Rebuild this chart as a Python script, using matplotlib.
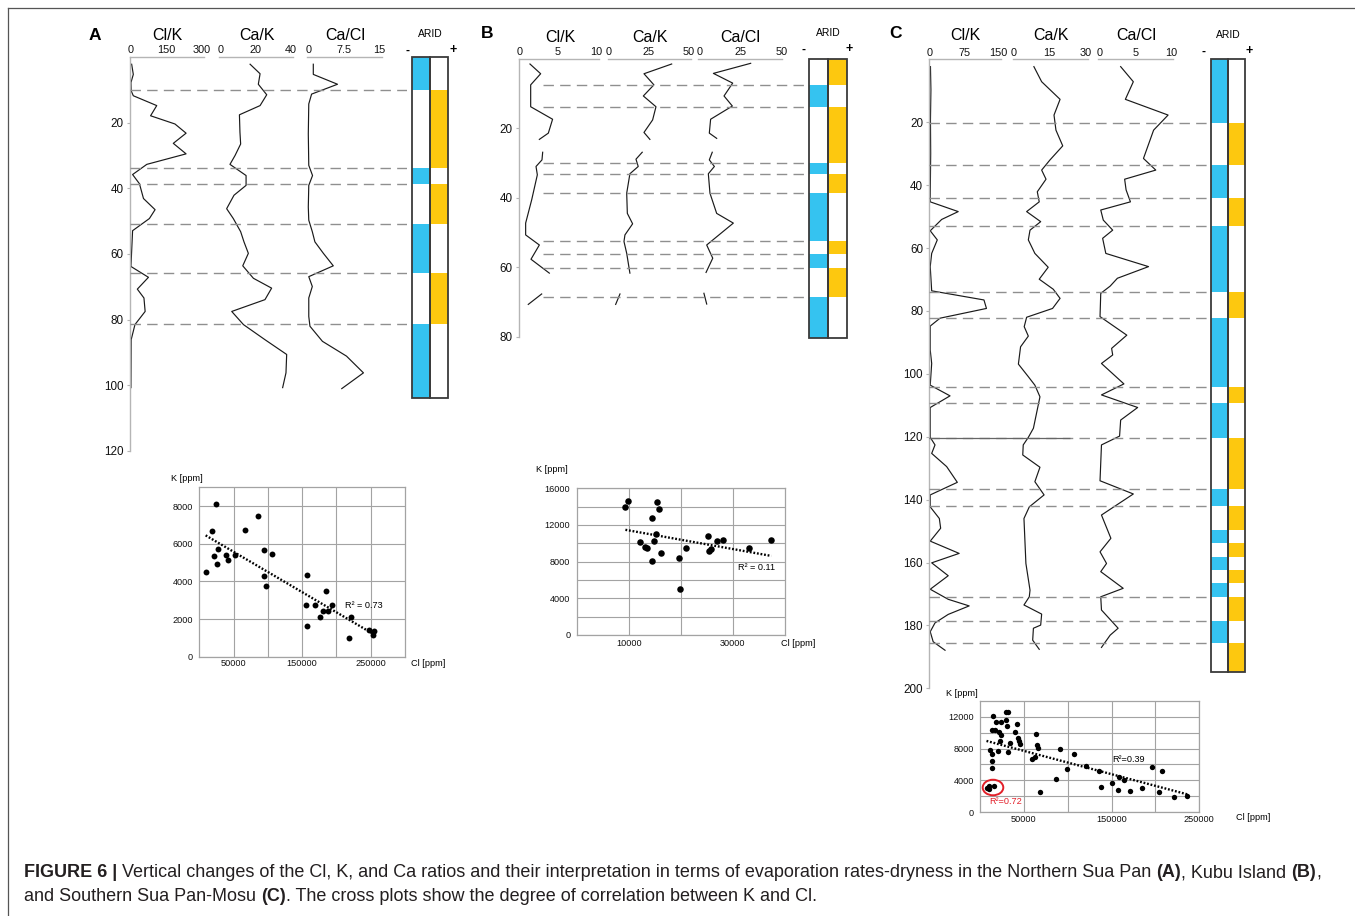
import numpy as np
import matplotlib
matplotlib.use('Agg')
import matplotlib.pyplot as plt
from matplotlib.patches import Ellipse
from matplotlib.lines import Line2D

plt.rcParams['font.family'] = ['Liberation Sans', 'DejaVu Sans']
plt.rcParams['lines.scale_dashes'] = False

# ---------------------------------------------------------------- data
# Panel A profiles (depth, value)
A_clk_depth = [2.2, 5.3, 7.8, 10.3, 11.8, 14.8, 17.9, 20.4, 23.2, 26.3, 29.5, 32.7, 35.8, 38.6, 43.1,
               46.5, 49.2, 52.9, 63.8, 67.1, 70.7, 73.4, 77.5, 81.5, 86.1, 100.7]
A_clk = [4, 11, 1, 2, 11, 110, 84, 187, 234, 180, 234, 68, 8, 37, 54, 103, 79, 8, 1, 75, 28, 56, 61, 18, 2, 1]
A_cak_depth = [2.2, 5.1, 8.3, 11.5, 14.8, 17.6, 22.9, 26.5, 30, 32.7, 36.1, 39.1, 42.1, 46.2, 49.2, 53.2,
               56.3, 59.8, 63.6, 67.4, 70.4, 73.9, 77.5, 81.5, 86.1, 90.6, 96.2, 100.7]
A_cak = [16.8, 22.5, 21.5, 26.3, 22.5, 10.7, 11, 11.4, 8.2, 5.3, 14.5, 14.5, 7.6, 3.4, 7.2, 11.4, 13.3,
         15.8, 12.6, 18.7, 29.1, 25.3, 6.3, 13, 25.3, 37.7, 37.3, 35.4]
A_cacl_depth = [2.2, 5.3, 8.3, 11.3, 14.3, 23.4, 33, 36.1, 39.1, 45.7, 49.7, 53.2, 56.3, 59.8, 63.6, 66.9,
                69.9, 73.4, 79, 82, 86.6, 91.1, 96.2, 101]
A_cacl = [1.06, 1.06, 6.2, 0.7, 0.1, 0.0, 0.1, 0.9, 0.1, 0, 0.1, 0.85, 1.4, 3.2, 5.3, 0.1, 0.85, 0.1, 0.1,
          0.35, 3.0, 8.1, 11.7, 7.1]
A_arid_bounds = [0, 10.05, 33.8, 38.7, 50.9, 65.8, 81.3, 104]
A_arid_state = ['-', '+', '-', '+', '-', '+', '-']
A_dash_depth = [10.05, 33.8, 38.7, 50.9, 65.8, 81.3]

# Panel B profiles (three separate segments each)
B_clk_depth = [[1.5, 4.3, 7.5, 13.8, 17.4, 21.4, 23.2],
               [26.9, 29.1, 31, 33.4, 40.6, 47.3, 50.7, 53.6, 57.7, 61.7],
               [67.7, 70.7]]
B_clk = [[1.38, 2.76, 1.47, 1.47, 4.3, 3.75, 2.59],
         [3.02, 2.93, 2.16, 2.33, 1.6, 0.82, 0.82, 2.59, 1.51, 3.88],
         [2.89, 1.16]]
B_cak_depth = [[1.5, 4.3, 7.5, 10.7, 13.8, 17.6, 21.2, 23.2],
               [26.9, 28.9, 31, 33.1, 38.7, 44.5, 47.5, 50.7, 52.6, 56, 61.7],
               [67.7, 70.7]]
B_cak = [[39.6, 22.3, 28.5, 21.9, 29.8, 27.7, 22.3, 26],
         [21.2, 17.3, 18.7, 13.5, 11.5, 11.9, 15.2, 10.4, 9.8, 11.5, 13.5],
         [7.3, 4.6]]
B_cacl_depth = [[1.3, 4.2, 7, 10.7, 13.6, 17.4, 21.4, 22.9],
                [26.9, 29.1, 31, 33.1, 38.7, 44.5, 47.3, 53.6, 57.4, 61.5],
                [67.5, 70.6]]
B_cacl = [[31, 8.2, 20, 14.7, 19.8, 6.5, 5.7, 10.2],
          [7.5, 5.7, 8.8, 5.1, 6.1, 10.2, 20.4, 4.1, 7.8, 3.7],
          [2.4, 4.1]]
B_arid_bounds = [0, 7.54, 13.97, 29.9, 33.2, 38.7, 52.4, 56.3, 60.3, 68.7, 80.5]
B_arid_state = ['+', '-', '+', '-', '+', '-', '+', '-', '+', '-']
B_dash_depth = [7.54, 13.97, 29.9, 33.2, 38.7, 52.4, 56.3, 60.3, 68.7]

# Panel C profiles
C_clk_depth = [2.3, 9.7, 19.3, 29.9, 43.7, 45.3, 48.4, 50.9, 54.5, 57.4, 61.7, 65.9, 73.6, 76.5, 79.2, 82.3,
               84.8, 92.4, 96.7, 103.6, 107, 110.7, 120.2, 122.6, 125.3, 129.5, 134.5, 138.5, 142.3, 146,
               149.1, 153.2, 157.1, 160.1, 164.2, 168.5, 171.7, 173.8, 176.5, 179.2, 182, 185.2, 187.9]
C_clk = [1, 2, 1, 1.5, 0.5, 0.5, 62, 25.6, 0.5, 16, 3.7, 0.5, 3.7, 118.5, 124, 22, 0.5, 0.5, 3.7, 0.5, 44,
         0.5, 0.5, 11, 3.7, 36.6, 60, 0.5, 0.5, 20.5, 23.4, 0.5, 64, 3.7, 40, 0.5, 40, 86, 40, 11, 0.5, 7, 33]
C_cak_depth = [2.3, 7.1, 12.7, 17.7, 22.5, 27.5, 32, 35.2, 38.1, 42.1, 45.3, 48.4, 51.6, 54.3, 57.4, 61.7,
               66.1, 69.9, 73.1, 76, 79.2, 82, 85, 88, 91.4, 96.9, 100.9, 103.6, 107.3, 117.3, 120.2, 122.6,
               125.8, 129.7, 134.3, 138.5, 142.3, 146, 160.3, 168.8, 170.9, 173.5, 176.4, 179.9, 180.9,
               184.7, 187.6]
C_cak = [8.5, 11.7, 19.3, 16.8, 17.6, 20.4, 15.1, 11.7, 13.5, 9.9, 10.7, 5.5, 11.3, 6.9, 6.2, 8.9, 14.4,
         10.7, 16.5, 19.3, 16.2, 5.5, 4.5, 6.2, 3, 2.1, 6.2, 8.9, 11, 8.3, 6.2, 4.1, 3.9, 11, 8.9, 12.7,
         6.6, 4.4, 5.2, 6.9, 6.6, 4.4, 11.7, 11.3, 8.3, 8, 10.7]
C_cacl_depth = [2.3, 7.1, 12.7, 17.7, 22.5, 31.5, 35.2, 38.1, 41.5, 45.3, 47.9, 51.1, 54.3, 56.9, 61.7,
                65.9, 69.6, 72.1, 74.4, 81.8, 87.7, 91.9, 94, 96.7, 103.2, 106.7, 110.7, 114.7, 119.8,
                122.6, 134, 138.2, 144.9, 152.3, 156.6, 160.3, 162.9, 168.2, 170.9, 175.1, 180.9, 183.1, 187]
C_cacl = [2.95, 4.7, 3.6, 9.5, 7.5, 6.1, 7.8, 3.5, 3.7, 4.3, 0.2, 0.55, 1.85, 0.46, 0.9, 6.8, 2.5, 1.5,
          0.2, 0.1, 3.8, 1.7, 1.85, 0.3, 3.4, 0.3, 5.3, 2.95, 2.8, 0.3, 0.1, 4.7, 0.3, 1.6, 0.1, 1.0, 0.2,
          3.3, 0.2, 0.3, 2.6, 1.5, 0.3]
C_arid_bounds = [0, 20.3, 33.6, 44, 52.9, 73.9, 82.2, 104.3, 109.4, 120.5, 136.7, 142, 149.8, 153.9,
                 158.2, 162.4, 166.6, 170.9, 178.5, 185.7, 194.8]
C_arid_state = ['-', '+'] * 10
C_dash_depth = [20.3, 33.6, 44, 52.9, 73.9, 82.2, 104.3, 109.4, 120.5, 136.7, 142, 170.9, 178.5, 185.7]
C_solid_depth = [120.5]

# Cross plots (Cl, K in ppm)
A_cl = [9245, 18491, 24818, 21411, 25791, 27251, 39416, 41363, 52068, 66667, 85645, 93917, 93917, 96837,
        106569, 157664, 156204, 157664, 168370, 176642, 180535, 184428, 187835, 194161, 220925, 218005,
        247202, 254988, 253528]
A_k = [4480, 6684, 8089, 5351, 4942, 5742, 5422, 5120, 5404, 6756, 7449, 5689, 4302, 3769, 5458, 4356,
       2738, 1618, 2738, 2098, 2436, 3467, 2436, 2773, 2098, 978, 1440, 1387, 1156]
B_cl = [9355, 9806, 12194, 13097, 13484, 14452, 14452, 14839, 15290, 15484, 15742, 16258, 19677, 19871,
        20968, 25290, 25484, 25806, 26903, 28065, 33032, 37355]
B_k = [14000, 14655, 10109, 9636, 9527, 12800, 8109, 10255, 10982, 14545, 13709, 8909, 8364, 5018, 9527,
       10800, 9200, 9345, 10255, 10364, 9455, 10364]
C_cl = [14639, 13118, 16920, 18441, 23384, 21483, 23384, 22624, 29087, 32129, 29848, 30989, 42395, 39734,
        43536, 44297, 45057, 33650, 32129, 20342, 11217, 13118, 13878, 13118,
        64068, 65209, 66350, 62548, 58745, 67871, 86122, 90684, 107034, 99430, 120342, 135551, 137452,
        150760, 158365, 157605, 164068, 170913, 184221, 196388, 207034, 203992, 221103, 236312]
C_k = [12042, 10375, 10375, 11333, 11333, 10083, 9667, 8917, 12583, 12583, 11625, 10833, 11125, 10083,
       9375, 8917, 8625, 8708, 7583, 7667, 7792, 7375, 6417, 5500,
       9875, 8417, 8083, 6958, 6625, 2583, 4125, 8000, 7292, 5375, 5792, 5167, 3208, 3708, 4458, 2792,
       4042, 2708, 3083, 5708, 5167, 2583, 1958, 2083]
C_red_cl = [7414, 9696, 10456, 16160]
C_red_k = [3000, 3292, 2875, 3292]

# ---------------------------------------------------------------- figure
W, H = 1355, 916
DPI = 100
fig = plt.figure(figsize=(W / DPI, H / DPI), dpi=DPI)
fig.patch.set_facecolor('white')

BLUE = '#35C3F0'
YELLOW = '#FDC80F'
SPINE = '#b5b5b5'
GRID = '#a3a3a3'


def px_axes(x0, y0, x1, y1):
    ax = fig.add_axes([x0 / W, 1 - y1 / H, (x1 - x0) / W, (y1 - y0) / H])
    ax.patch.set_alpha(0)
    return ax


def ftext(x, y, s, **kw):
    kw.setdefault('ha', 'center')
    kw.setdefault('va', 'center')
    return fig.text(x / W, 1 - y / H, s, **kw)


def profile(x_zero, x_max, vmax, line_l, line_r, y_top, y_bot, dmax, ticks, labels,
            depth, vals, depth_axis=None):
    scale = (x_max - x_zero) / vmax
    ax = px_axes(line_l, y_top, line_r, y_bot)
    ax.set_xlim((line_l - x_zero) / scale, (line_r - x_zero) / scale)
    ax.set_ylim(dmax, 0)
    for s in ['bottom', 'right', 'left']:
        ax.spines[s].set_visible(False)
    ax.spines['top'].set_color(SPINE)
    ax.spines['top'].set_linewidth(1.0)
    ax.xaxis.set_ticks_position('top')
    ax.set_xticks(ticks)
    ax.set_xticklabels(labels)
    ax.tick_params(axis='x', length=0, pad=1.2, labelsize=7.8, colors='#111')
    if depth_axis is not None:
        ax.spines['left'].set_visible(True)
        ax.spines['left'].set_color(SPINE)
        ax.spines['left'].set_linewidth(1.0)
        ax.set_yticks(depth_axis)
        ax.tick_params(axis='y', length=2.5, width=0.8, color=SPINE, pad=2, labelsize=8.4,
                       labelcolor='#111')
    else:
        ax.set_yticks([])
    if depth and isinstance(depth[0], list):
        for d, v in zip(depth, vals):
            ax.plot(v, d, color='#1a1a1a', lw=0.85, clip_on=False)
    else:
        ax.plot(vals, depth, color='#1a1a1a', lw=0.85, clip_on=False)
    return ax


def dashes(x0, x1, y_top, y_bot, dmax, depths, solid=None, solid_x1=None):
    ax = px_axes(x0, y_top, x1, y_bot)
    ax.set_xlim(0, 1)
    ax.set_ylim(dmax, 0)
    ax.axis('off')
    ax.hlines(depths, 0, 1, colors='#8f8f8f', linewidth=1.0, linestyles=[(0, (7.5, 4.5))])
    if solid:
        ax.hlines(solid, 0, (solid_x1 - x0) / (x1 - x0), colors='#666666', linewidth=0.9)


def arid_column(x0, x1, y_top, y_bot, dmax, bounds, state):
    ax = px_axes(x0, y_top, x1, y_bot)
    ax.set_xlim(0, 2)
    ax.set_ylim(dmax, 0)
    ax.axis('off')
    for i, st in enumerate(state):
        top, bot = bounds[i], bounds[i + 1]
        if st == '-':
            ax.bar(0.5, bot - top, bottom=top, width=1, color=BLUE, lw=0, clip_on=False)
        else:
            ax.bar(1.5, bot - top, bottom=top, width=1, color=YELLOW, lw=0, clip_on=False)
    ax.bar([0.5, 1.5], [bounds[-1]] * 2, bottom=0, width=1, fill=False, edgecolor='#3a3a3a',
           linewidth=1.3, clip_on=False)


def cross(x0, y0, x1, y1, cl, k, xlim, ylim, xmaj, xmin_, ymaj, ygrid, s, xpad):
    ax = px_axes(x0, y0, x1, y1)
    ax.patch.set_alpha(1)
    ax.patch.set_facecolor('white')
    ax.set_xlim(*xlim)
    ax.set_ylim(*ylim)
    ax.set_xticks(xmaj)
    ax.set_xticks(xmin_, minor=True)
    ax.set_yticks(ymaj)
    ax.set_yticks(ygrid, minor=True)
    ax.grid(True, which='both', color=GRID, lw=0.8)
    ax.set_axisbelow(True)
    ax.tick_params(which='both', length=0)
    ax.tick_params(axis='y', pad=4.5, labelsize=6.6, labelcolor='#111')
    ax.tick_params(axis='x', pad=xpad, labelsize=6.6, labelcolor='#111')
    for sp in ax.spines.values():
        sp.set_color(GRID)
        sp.set_linewidth(0.9)
    ax.scatter(cl, k, s=s, c='k', zorder=3, lw=0, clip_on=False)
    return ax


def trend(ax, cl, k):
    p = np.polyfit(cl, k, 1)
    xs = np.array([min(cl), max(cl)])
    ax.plot(xs, np.polyval(p, xs), color='k', lw=1.7, linestyle=(0, (1.3, 1.3)), zorder=4)


# ---------------------------------------------------------------- Panel A
yA0, yA1, dA = 57, 451, 120
ftext(95, 35, 'A', fontsize=12.5, fontweight='bold')
profile(130.7, 201.7, 300, 130, 204, yA0, yA1, dA, [0, 150, 300], ['0', '150', '300'],
        A_clk_depth, A_clk, depth_axis=[20, 40, 60, 80, 100, 120])
profile(220.7, 290.7, 40, 218.7, 293, yA0, yA1, dA, [0, 20, 40], ['0', '20', '40'], A_cak_depth, A_cak)
profile(308.3, 379, 15, 306.7, 381.7, yA0, yA1, dA, [0, 7.5, 15], ['0', '7.5', '15'], A_cacl_depth, A_cacl)
dashes(130, 407, yA0, yA1, dA, A_dash_depth)
arid_column(412, 448, yA0, yA1, dA, A_arid_bounds, A_arid_state)
for x, t in [(167, 'Cl/K'), (257, 'Ca/K'), (345, 'Ca/Cl')]:
    ftext(x, 36, t, fontsize=11.5)
ftext(430, 34, 'ARID', fontsize=7.4)
ftext(407, 51, '-', fontsize=8.5, fontweight='bold')
ftext(453, 50, '+', fontsize=9, fontweight='bold')

# ---------------------------------------------------------------- Panel B
yB0, yB1, dB = 58.8, 336.7, 80
ftext(487, 34, 'B', fontsize=12.5, fontweight='bold')
profile(519.3, 596.7, 10, 519, 599, yB0, yB1, dB, [0, 5, 10], ['0', '5', '10'],
        B_clk_depth, B_clk, depth_axis=[20, 40, 60, 80])
profile(608.3, 688.3, 50, 608, 691, yB0, yB1, dB, [0, 25, 50], ['0', '25', '50'], B_cak_depth, B_cak)
profile(700, 781.7, 50, 698, 782, yB0, yB1, dB, [0, 25, 50], ['0', '25', '50'], B_cacl_depth, B_cacl)
dashes(543, 806, yB0, yB1, dB, B_dash_depth)
arid_column(809.3, 846.7, yB0, yB1, dB, B_arid_bounds, B_arid_state)
for x, t in [(560, 'Cl/K'), (650, 'Ca/K'), (740, 'Ca/Cl')]:
    ftext(x, 37, t, fontsize=11.5)
ftext(828, 33, 'ARID', fontsize=7.4)
ftext(804, 50, '-', fontsize=8.5, fontweight='bold')
ftext(849, 49, '+', fontsize=9, fontweight='bold')

# ---------------------------------------------------------------- Panel C
yC0, yC1, dC = 59.4, 688.3, 200
ftext(896, 34, 'C', fontsize=12.5, fontweight='bold')
profile(930, 998.3, 150, 929.3, 1000.7, yC0, yC1, dC, [0, 75, 150], ['0', '75', '150'],
        C_clk_depth, C_clk, depth_axis=list(range(20, 201, 20)))
profile(1013.3, 1086, 30, 1012.7, 1088.3, yC0, yC1, dC, [0, 15, 30], ['0', '15', '30'], C_cak_depth, C_cak)
profile(1099.3, 1171.7, 10, 1098, 1173, yC0, yC1, dC, [0, 5, 10], ['0', '5', '10'], C_cacl_depth, C_cacl)
dashes(929.3, 1208, yC0, yC1, dC, C_dash_depth, solid=C_solid_depth, solid_x1=1070)
arid_column(1210.7, 1245, yC0, yC1, dC, C_arid_bounds, C_arid_state)
for x, t in [(965, 'Cl/K'), (1050.7, 'Ca/K'), (1136.7, 'Ca/Cl')]:
    ftext(x, 35, t, fontsize=11.5)
ftext(1228, 35, 'ARID', fontsize=7.4)
ftext(1204, 52, '-', fontsize=8.5, fontweight='bold')
ftext(1249, 51, '+', fontsize=9, fontweight='bold')

# ---------------------------------------------------------------- cross plots
axA = cross(199.3, 487.3, 405, 656.7, A_cl, A_k, (0, 300000), (0, 9000),
            [50000, 150000, 250000], [100000, 200000], [0, 2000, 4000, 6000, 8000], [],
            18, 1.6)
trend(axA, A_cl, A_k)
ftext(187, 478, 'K [ppm]', fontsize=6.6)
ftext(428, 663, 'Cl [ppm]', fontsize=6.6)
ftext(345, 605.5, 'R² = 0.73', fontsize=6.6, ha='left')

axB = cross(576.7, 488.3, 785, 635, B_cl, B_k, (0, 40000), (0, 16000),
            [10000, 30000], [20000], [0, 4000, 8000, 12000, 16000], [2000, 6000, 10000, 14000],
            22, 3.0)
trend(axB, B_cl, B_k)
ftext(551.7, 470, 'K [ppm]', fontsize=6.6)
ftext(798.5, 644, 'Cl [ppm]', fontsize=6.6)
ftext(738, 568, 'R² = 0.11', fontsize=6.6, ha='left')

axC = cross(980, 700.7, 1199.3, 812.3, C_cl, C_k, (0, 250000), (0, 14000),
            [50000, 150000, 250000], [100000, 200000], [0, 4000, 8000, 12000],
            [2000, 6000, 10000],
            15, 1.6)
axC.scatter(C_red_cl, C_red_k, s=15, c='k', zorder=3, lw=0)
trend(axC, C_cl + C_red_cl, C_k + C_red_k)
axC.add_patch(Ellipse((14820, 3111), 23480, 1950, fill=False, edgecolor='#e3202a', lw=1.4, zorder=5))
ftext(962, 694, 'K [ppm]', fontsize=6.6)
ftext(1253, 818, 'Cl [ppm]', fontsize=6.6)
ftext(1112.7, 759, 'R²=0.39', fontsize=6.6, ha='left')
ftext(989.3, 801.7, 'R²=0.72', fontsize=6.6, ha='left', color='#e3202a')

# ---------------------------------------------------------------- frame
fig.add_artist(Line2D([8 / W, 8 / W], [0, 1 - 8 / H], color='#555555', lw=0.9))
fig.add_artist(Line2D([8 / W, 1], [1 - 8 / H, 1 - 8 / H], color='#555555', lw=0.9))

# ---------------------------------------------------------------- caption
renderer = fig.canvas.get_renderer()
line1 = [('FIGURE 6 |', 'bold', False),
         ('Vertical changes of the Cl, K, and Ca ratios and their interpretation in terms of '
          'evaporation rates-dryness in the Northern Sua Pan', 'normal', True),
         ('(A)', 'bold', True), (', Kubu Island', 'normal', False), ('(B)', 'bold', True),
         (',', 'normal', False)]
line2 = [('and Southern Sua Pan-Mosu', 'normal', False), ('(C)', 'bold', True),
         ('. The cross plots show the degree of correlation between K and Cl.', 'normal', False)]


def width_of(s, weight, size):
    t = fig.text(0, 0, s, fontsize=size, fontweight=weight)
    w = t.get_window_extent(renderer).width
    t.remove()
    return w


def draw_line(pieces, x0, y, size, draw=True):
    sp = width_of('x x', 'normal', size) - width_of('xx', 'normal', size)
    x = x0
    for s, wt, space in pieces:
        if space:
            x += sp
        if draw:
            t = fig.text(x / W, 1 - y / H, s, fontsize=size, fontweight=wt, ha='left',
                         va='baseline', color='#231f20')
            x = t.get_window_extent(renderer).x1
        else:
            x += width_of(s, wt, size)
    return x - x0


base = 13
w1 = draw_line(line1, 24, 877, base, draw=False)
size = base * (1298 / w1)
draw_line(line1, 24, 877, size)
draw_line(line2, 24, 901, size)

fig.savefig('out.png', dpi=DPI)
